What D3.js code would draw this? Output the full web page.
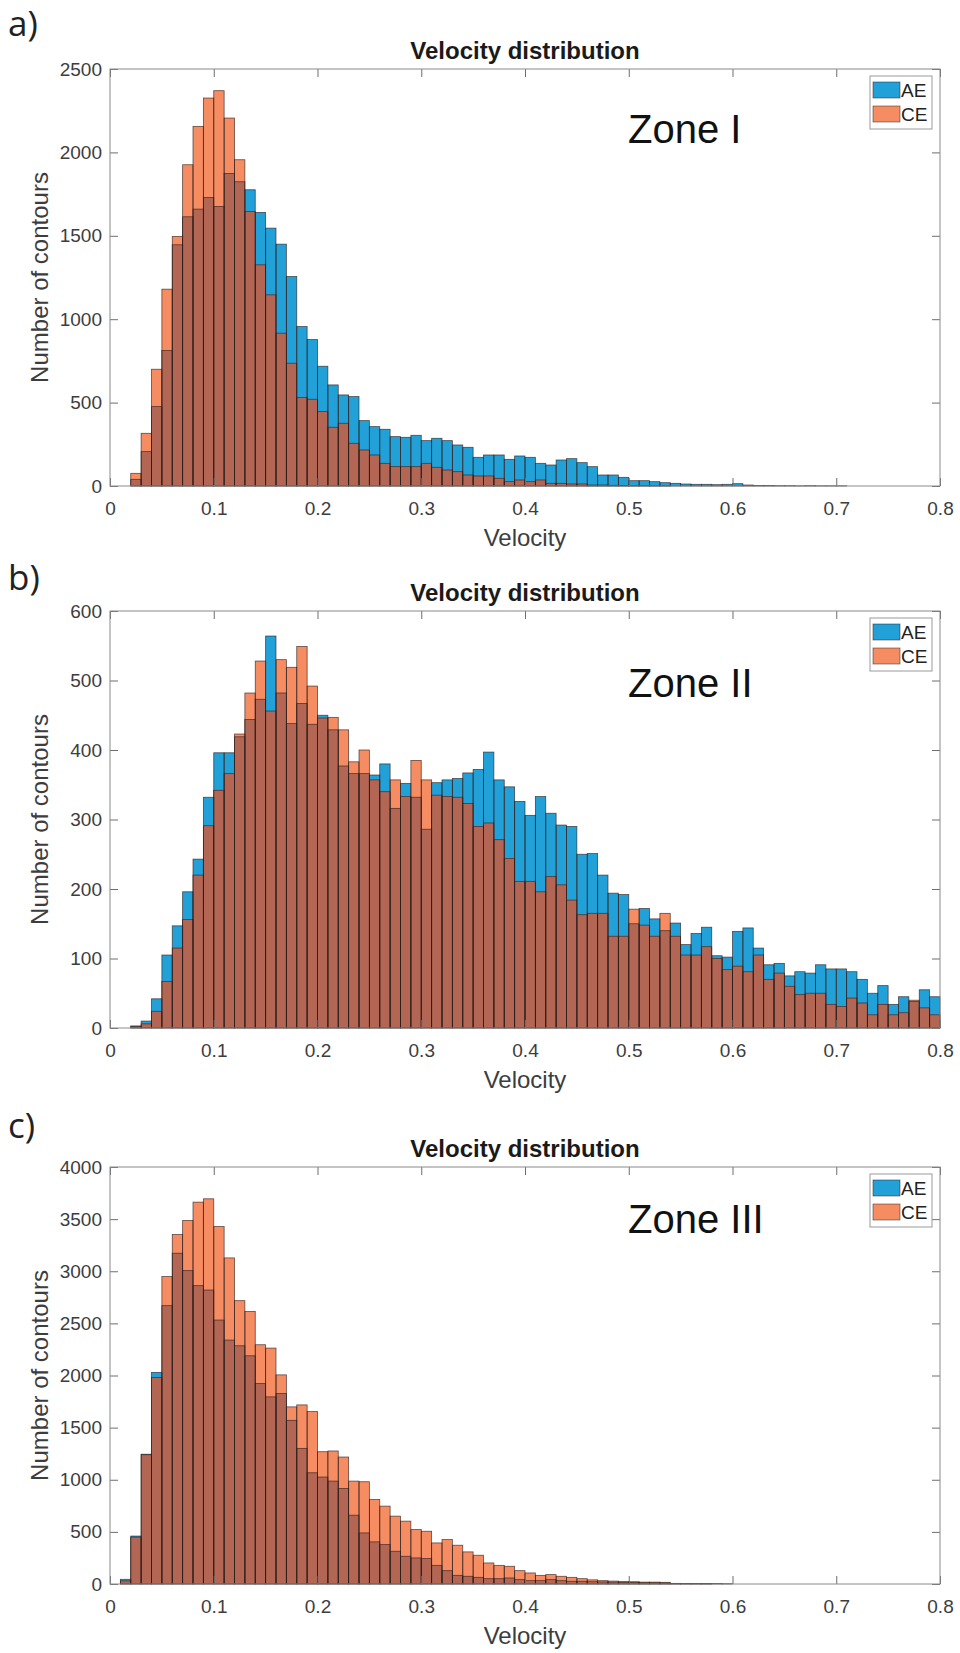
<!DOCTYPE html>
<html>
<head>
<meta charset="utf-8">
<script src="https://cdn.jsdelivr.net/npm/d3@7"></script>
<style>
  body { margin: 0; background: #fff; }
  svg text { font-family: "Liberation Sans", Arial, sans-serif; }
</style>
</head>
<body>
<div id="chart"></div>
<script>
// histogram bins: width 0.01, first bin starts at velocity 0
const binStart = 0;
const binWidth = 0.01;

const xTicks = [0, 0.1, 0.2, 0.3, 0.4, 0.5, 0.6, 0.7, 0.8];
const yTicksI = [0, 500, 1000, 1500, 2000, 2500];
const yTicksII = [0, 100, 200, 300, 400, 500, 600];
const yTicksIII = [0, 500, 1000, 1500, 2000, 2500, 3000, 3500, 4000];

const seriesNames = ["AE", "CE"];

// Zone I counts per bin (0.00 .. 0.79)
const aeZoneI = [
  0, 0, 40, 206, 476, 812, 1446, 1614, 1660, 1730,
  1676, 1874, 1824, 1776, 1640, 1546, 1450, 1256, 956, 878,
  718, 606, 546, 536, 392, 356, 340, 296, 292, 304,
  272, 286, 272, 246, 232, 172, 186, 186, 160, 180,
  172, 136, 126, 156, 164, 140, 116, 66, 66, 52,
  32, 32, 26, 20, 16, 12, 10, 10, 8, 10,
  14, 6, 3, 3, 2, 2, 1, 2, 1, 1,
  1, 0, 0, 0, 0, 0, 0, 0, 0, 0
];
const ceZoneI = [
  0, 0, 76, 316, 700, 1180, 1496, 1926, 2156, 2326,
  2370, 2206, 1956, 1646, 1326, 1146, 916, 736, 530, 520,
  446, 352, 376, 256, 216, 186, 136, 116, 116, 116,
  136, 112, 96, 86, 66, 60, 60, 46, 26, 36,
  26, 36, 16, 16, 12, 12, 6, 6, 4, 3,
  2, 2, 1, 1, 0, 0, 0, 0, 0, 0,
  0, 0, 0, 0, 0, 0, 0, 0, 0, 0,
  0, 0, 0, 0, 0, 0, 0, 0, 0, 0
];

// Zone II
const aeZoneII = [
  0, 0, 3, 10, 42, 105, 147, 196, 243, 332,
  396, 396, 419, 444, 473, 564, 482, 438, 467, 437,
  450, 429, 377, 366, 366, 364, 380, 316, 352, 332,
  286, 353, 357, 359, 367, 372, 397, 357, 347, 326,
  306, 333, 309, 292, 290, 250, 251, 220, 194, 192,
  150, 172, 157, 140, 151, 120, 136, 145, 104, 102,
  139, 144, 115, 91, 93, 75, 81, 79, 91, 85,
  85, 81, 70, 50, 61, 34, 45, 38, 55, 45
];
const ceZoneII = [
  0, 0, 2, 6, 24, 67, 115, 156, 220, 291,
  342, 366, 423, 482, 528, 456, 530, 519, 549, 492,
  446, 447, 429, 383, 400, 357, 340, 357, 333, 385,
  357, 335, 333, 332, 323, 290, 295, 271, 244, 211,
  211, 196, 218, 206, 184, 163, 165, 165, 132, 132,
  171, 148, 132, 165, 132, 105, 105, 117, 100, 84,
  89, 81, 105, 70, 79, 60, 48, 50, 50, 34,
  31, 43, 36, 19, 34, 19, 22, 40, 29, 19
];

// Zone III
const aeZoneIII = [
  0, 45, 460, 1245, 2030, 2670, 3173, 3006, 2862, 2820,
  2532, 2340, 2285, 2189, 1923, 1795, 1827, 1570, 1301, 1067,
  1026, 987, 917, 660, 490, 404, 378, 314, 266, 250,
  244, 179, 128, 83, 74, 64, 51, 51, 58, 42,
  32, 32, 42, 32, 26, 26, 22, 20, 18, 15,
  14, 12, 12, 10, 6, 5, 5, 4, 4, 3,
  0, 0, 0, 0, 0, 0, 0, 0, 0, 0,
  0, 0, 0, 0, 0, 0, 0, 0, 0, 0
];
const ceZoneIII = [
  0, 30, 450, 1240, 1980, 2949, 3352, 3487, 3663, 3695,
  3429, 3128, 2718, 2615, 2295, 2263, 2006, 1699, 1718, 1654,
  1269, 1276, 1218, 987, 981, 811, 747, 651, 603, 522,
  506, 394, 426, 372, 308, 276, 202, 179, 170, 128,
  106, 83, 90, 74, 64, 51, 40, 32, 28, 25,
  22, 18, 18, 16, 3, 2, 1, 1, 0, 0,
  0, 0, 0, 0, 0, 0, 0, 0, 0, 0,
  0, 0, 0, 0, 0, 0, 0, 0, 0, 0
];

const panels = [
  { tag: "a)", zone: "Zone I", ae: aeZoneI, ce: ceZoneI, yTicks: yTicksI, top: 69, tagY: 36, zoneY: 74 },
  { tag: "b)", zone: "Zone II", ae: aeZoneII, ce: ceZoneII, yTicks: yTicksII, top: 611, tagY: 590, zoneY: 86 },
  { tag: "c)", zone: "Zone III", ae: aeZoneIII, ce: ceZoneIII, yTicks: yTicksIII, top: 1167, tagY: 1138, zoneY: 66 }
];

const width = 960, height = 1653;
const left = 110, plotW = 830, plotH = 417;

const colAE = "#22a0d8", colCE = "#f68c62", colBoth = "#b36654";
const edge = "#2e1f1c";

const svg = d3.select("#chart").append("svg")
  .attr("width", width)
  .attr("height", height);

panels.forEach(p => {
  const x = d3.scaleLinear().domain([0, 0.8]).range([0, plotW]);
  const y = d3.scaleLinear().domain([0, d3.max(p.yTicks)]).range([plotH, 0]);

  const bins = p.ae.map((v, i) => ({
    x0: binStart + i * binWidth,
    x1: binStart + (i + 1) * binWidth,
    ae: v,
    ce: p.ce[i]
  }));

  // panel letter
  svg.append("text")
    .attr("x", 8)
    .attr("y", p.tagY)
    .style("font-family", "'Open Sans', Lato, sans-serif")
    .style("font-size", "35px")
    .attr("fill", "#222")
    .text(p.tag);

  const g = svg.append("g").attr("transform", `translate(${left},${p.top})`);

  // fills: AE, CE and their overlap
  const fillLayer = (val, color, cls) => g.selectAll("." + cls)
    .data(bins.filter(d => val(d) > 0))
    .enter().append("rect")
    .attr("class", cls)
    .attr("x", d => x(d.x0))
    .attr("width", d => x(d.x1) - x(d.x0))
    .attr("y", d => y(val(d)))
    .attr("height", d => plotH - y(val(d)))
    .attr("fill", color);

  fillLayer(d => d.ae, colAE, "ae");
  fillLayer(d => d.ce, colCE, "ce");
  fillLayer(d => Math.min(d.ae, d.ce), colBoth, "both");

  // bar edges of both histograms
  [d => d.ae, d => d.ce].forEach((val, k) => {
    g.selectAll(".edge" + k)
      .data(bins.filter(d => val(d) > 0))
      .enter().append("rect")
      .attr("class", "edge" + k)
      .attr("x", d => x(d.x0))
      .attr("width", d => x(d.x1) - x(d.x0))
      .attr("y", d => y(val(d)))
      .attr("height", d => plotH - y(val(d)))
      .attr("fill", "none")
      .attr("stroke", edge)
      .attr("stroke-opacity", 0.75)
      .attr("stroke-width", 0.8);
  });

  // axes (ticks inward on all four sides)
  const styleAxis = sel => {
    sel.select(".domain").remove();
    sel.selectAll("line").attr("stroke", "#6e6e6e");
    sel.selectAll("text").attr("fill", "#3d3d3d").style("font-size", "19px")
      .style("font-family", "'Liberation Sans', Arial, sans-serif");
  };

  g.append("g")
    .attr("transform", `translate(0,${plotH})`)
    .call(d3.axisBottom(x).tickValues(xTicks).tickSize(-8).tickPadding(16).tickFormat(d3.format("")))
    .call(styleAxis);
  g.append("g")
    .call(d3.axisTop(x).tickValues(xTicks).tickSize(-8).tickFormat(""))
    .call(styleAxis);
  g.append("g")
    .call(d3.axisLeft(y).tickValues(p.yTicks).tickSize(-8).tickPadding(8).tickFormat(d3.format("d")))
    .call(styleAxis);
  g.append("g")
    .attr("transform", `translate(${plotW},0)`)
    .call(d3.axisRight(y).tickValues(p.yTicks).tickSize(-8).tickFormat(""))
    .call(styleAxis);

  // box
  g.append("rect")
    .attr("width", plotW)
    .attr("height", plotH)
    .attr("fill", "none")
    .attr("stroke", "#8a8a8a")
    .attr("stroke-width", 1);

  // title
  g.append("text")
    .attr("x", plotW / 2)
    .attr("y", -10)
    .attr("text-anchor", "middle")
    .style("font-size", "24px")
    .style("font-weight", "bold")
    .attr("fill", "#1a1a1a")
    .text("Velocity distribution");

  // axis labels
  g.append("text")
    .attr("x", plotW / 2)
    .attr("y", plotH + 60)
    .attr("text-anchor", "middle")
    .style("font-size", "24px")
    .attr("fill", "#3d3d3d")
    .text("Velocity");

  g.append("text")
    .attr("transform", `translate(-70,${plotH / 2}) rotate(-90)`)
    .attr("text-anchor", "middle")
    .attr("dy", "0.35em")
    .style("font-size", "24px")
    .attr("fill", "#3d3d3d")
    .text("Number of contours");

  // zone annotation
  g.append("text")
    .attr("x", 518)
    .attr("y", p.zoneY)
    .style("font-size", "40px")
    .attr("fill", "#111")
    .text(p.zone);

  // legend
  const lg = g.append("g").attr("transform", `translate(${plotW - 70},7)`);
  lg.append("rect")
    .attr("width", 62)
    .attr("height", 53)
    .attr("fill", "#fff")
    .attr("stroke", "#9a9a9a");
  seriesNames.forEach((name, i) => {
    lg.append("rect")
      .attr("x", 3)
      .attr("y", 6 + i * 24)
      .attr("width", 27)
      .attr("height", 16)
      .attr("fill", i === 0 ? colAE : colCE)
      .attr("stroke", edge)
      .attr("stroke-opacity", 0.6)
      .attr("stroke-width", 0.8);
    lg.append("text")
      .attr("x", 31)
      .attr("y", 21 + i * 24)
      .style("font-size", "19px")
      .attr("fill", "#222")
      .text(name);
  });
});
</script>
</body>
</html>
